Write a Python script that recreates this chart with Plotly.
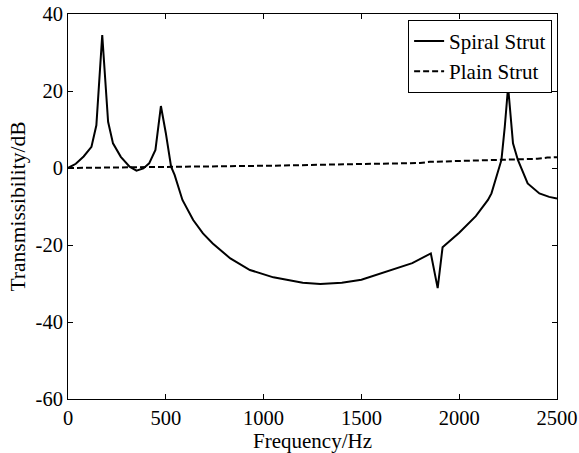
import plotly.graph_objects as go

spiral_f = [0, 40, 80, 120, 145, 175, 205, 230, 270, 315, 350, 385, 415, 447, 475, 500, 527, 545, 585,
            640, 690, 740, 830, 930, 1050, 1200, 1290, 1400, 1500, 1590, 1660, 1760, 1855, 1890, 1915,
            2000, 2085, 2147, 2165, 2216, 2233, 2250, 2275, 2300, 2350, 2410, 2460, 2500]
spiral_db = [0.0, 1.1, 3.0, 5.5, 11.1, 34.5, 12.0, 6.4, 2.9, 0.35, -0.7, -0.1, 1.2, 4.7, 16.1, 9.1, 0.35, -1.8, -8.3,
             -13.5, -17.0, -19.6, -23.5, -26.5, -28.4, -29.8, -30.1, -29.8, -29.0, -27.5, -26.5, -24.7, -22.2, -31.2, -20.6,
             -16.8, -12.5, -8.3, -6.6, 2.1, 10.7, 21.1, 6.4, 2.1, -4.0, -6.6, -7.5, -7.9]

plain_f = [0, 500, 1000, 1050, 1350, 1500, 1800, 1850, 2000, 2150, 2400, 2450, 2500]
plain_db = [0.0, 0.2, 0.4, 0.6, 0.9, 1.0, 1.3, 1.6, 1.8, 2.0, 2.4, 2.7, 2.8]

x_ticks = [0, 500, 1000, 1500, 2000, 2500]
y_ticks = [-60, -40, -20, 0, 20, 40]

font = "Liberation Serif, Times New Roman, serif"

fig = go.Figure()
fig.add_trace(go.Scatter(x=spiral_f, y=spiral_db, mode="lines", name="Spiral Strut",
                         line=dict(color="black", width=2)))
fig.add_trace(go.Scatter(x=plain_f, y=plain_db, mode="lines", name="Plain Strut",
                         line=dict(color="black", width=2, dash="6px,3px")))

axis_common = dict(showgrid=False, zeroline=False, showline=True, linecolor="black", linewidth=1,
                   mirror="ticks", ticks="inside", ticklen=5, tickcolor="black", automargin=False,
                   tickfont=dict(family=font, size=20.5, color="black"))

fig.update_layout(
    width=579, height=453,
    margin=dict(l=68, r=22, t=14, b=54),
    paper_bgcolor="white", plot_bgcolor="white",
    font=dict(family=font, size=20, color="black"),
    xaxis=dict(range=[0, 2500], tickvals=x_ticks, ticktext=[str(v) for v in x_ticks],
               title=dict(text="Frequency/Hz", font=dict(family=font, size=21)),
               ticklabelstandoff=0, **axis_common),
    yaxis=dict(range=[-60, 40], tickvals=y_ticks, ticktext=[str(v) for v in y_ticks],
               title=dict(text="Transmissibility/dB", standoff=4, font=dict(family=font, size=21.5)),
               ticklabelstandoff=0, **axis_common),
    legend=dict(x=0.99, y=0.985, xanchor="right", yanchor="top", bgcolor="white",
                bordercolor="black", borderwidth=1, font=dict(family=font, size=21),
                tracegroupgap=0),
    showlegend=True,
)

fig.write_html("out.html", config={"displayModeBar": False},
               post_script="document.body.style.margin='0';document.body.style.overflow='hidden';")
